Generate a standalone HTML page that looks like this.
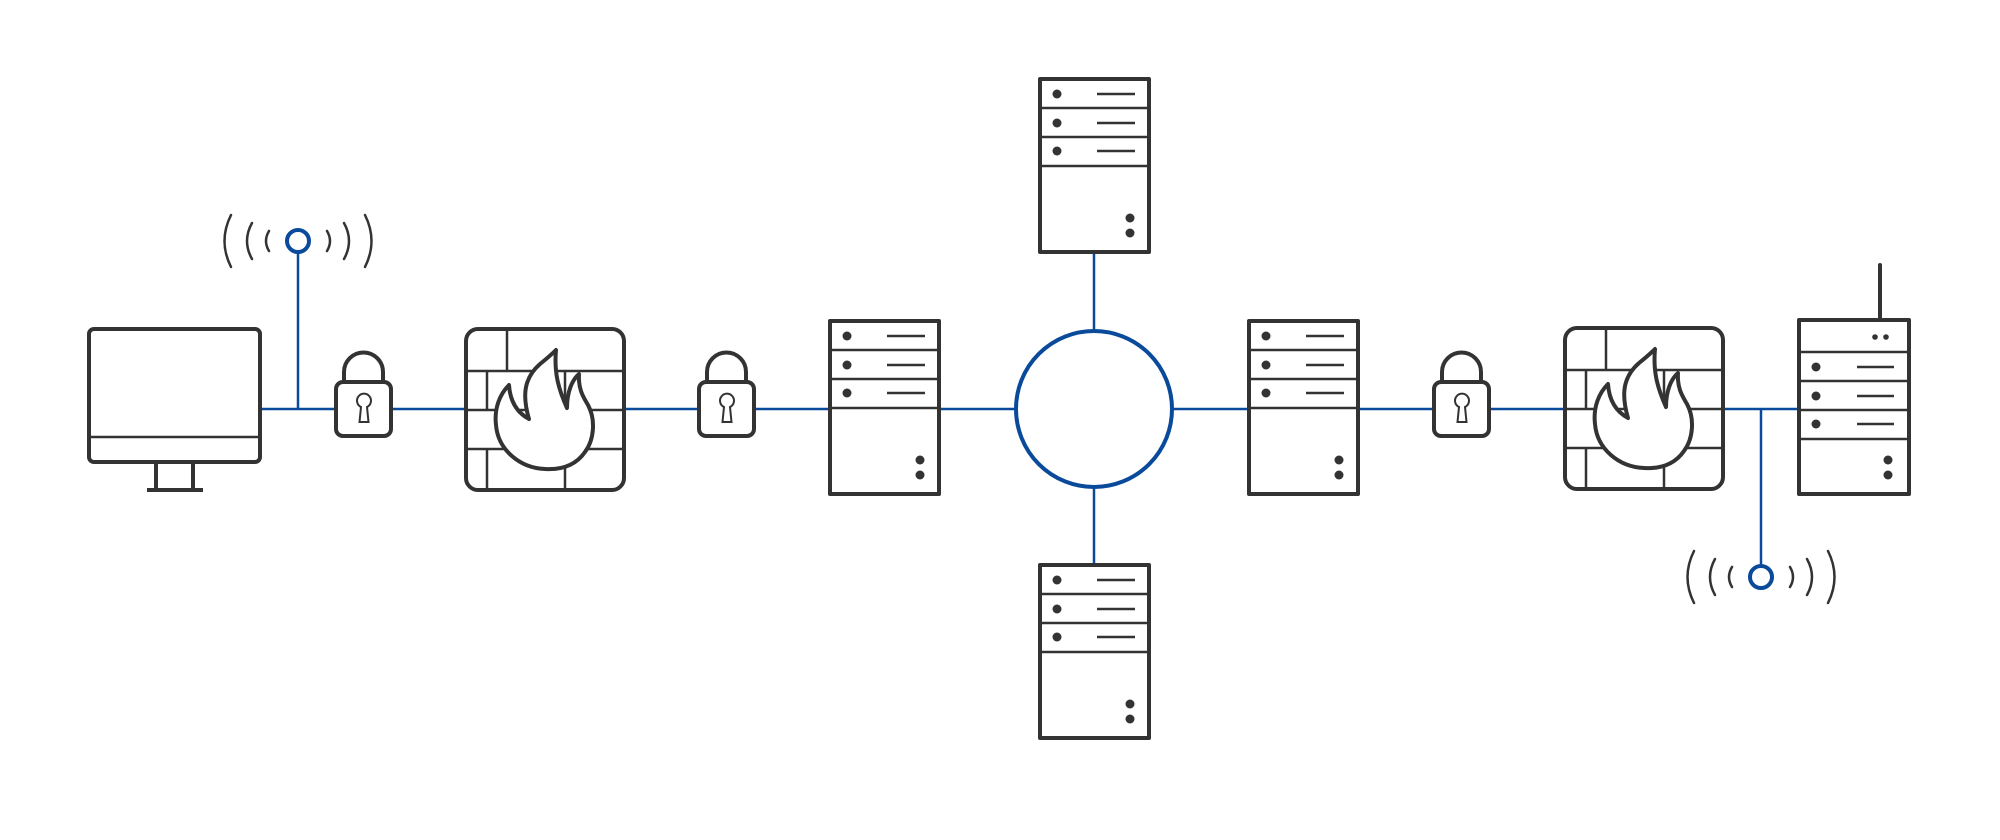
<!DOCTYPE html>
<html><head><meta charset="utf-8"><style>html,body{margin:0;padding:0;background:#fff}svg{display:block}</style></head>
<body>
<svg width="2000" height="840" viewBox="0 0 2000 840" xmlns="http://www.w3.org/2000/svg">
<defs>
<g id="srv">
  <rect x="0" y="0" width="109" height="173" fill="#fff" stroke="#333" stroke-width="4" stroke-linejoin="round"/>
  <line x1="0" y1="29" x2="109" y2="29" stroke="#333" stroke-width="2.5"/>
  <line x1="0" y1="58" x2="109" y2="58" stroke="#333" stroke-width="2.5"/>
  <line x1="0" y1="87" x2="109" y2="87" stroke="#333" stroke-width="2.5"/>
  <circle cx="17" cy="15" r="4.5" fill="#333"/><circle cx="17" cy="44" r="4.5" fill="#333"/><circle cx="17" cy="72" r="4.5" fill="#333"/>
  <line x1="57" y1="15" x2="95" y2="15" stroke="#333" stroke-width="2.5"/>
  <line x1="57" y1="44" x2="95" y2="44" stroke="#333" stroke-width="2.5"/>
  <line x1="57" y1="72" x2="95" y2="72" stroke="#333" stroke-width="2.5"/>
  <circle cx="90" cy="139" r="4.5" fill="#333"/><circle cx="90" cy="154" r="4.5" fill="#333"/>
</g>
<g id="lock">
  <path d="M8,27 V17 A19.5,19.5 0 0 1 47,17 V27" fill="none" stroke="#333" stroke-width="4"/>
  <rect x="0" y="27" width="55" height="54" rx="7" fill="#fff" stroke="#333" stroke-width="4"/>
  <path d="M23.5,67 L25,52 A7,7 0 1 1 31,52 L32.5,67 Z" fill="none" stroke="#333" stroke-width="2"/>
</g>
<g id="fw">
  <rect x="0" y="0" width="158" height="161" rx="12" fill="#fff" stroke="#333" stroke-width="4"/>
  <g stroke="#333" stroke-width="2.5">
    <line x1="0" y1="42" x2="158" y2="42"/><line x1="0" y1="81" x2="158" y2="81"/><line x1="0" y1="120" x2="158" y2="120"/>
    <line x1="41" y1="0" x2="41" y2="42"/>
    <line x1="21" y1="42" x2="21" y2="81"/><line x1="99" y1="42" x2="99" y2="81"/>
    <line x1="21" y1="120" x2="21" y2="161"/><line x1="99" y1="120" x2="99" y2="161"/>
  </g>
  <path transform="translate(-466,-329)" d="M529,419 C522,395 524,378 540,364 C550,356 556,350 556,350 C554,372 558,388 567,408 C567,392 572,380 579,374 C578,390 584,398 588,405 C596,420 594,440 585,452 C576,465 562,470 545,469 C520,468 498,450 496,425 C494,408 500,394 509,385 C510,400 516,412 529,419 Z" fill="#fff" stroke="#333" stroke-width="4" stroke-linejoin="round"/>
</g>
<g id="waves" fill="none" stroke="#333" stroke-width="2.5" stroke-linecap="round">
  <path d="M-29,-10 Q-35,0 -29,10"/><path d="M-46,-18 Q-56,0 -46,18"/><path d="M-67,-26 Q-80,0 -67,26"/>
  <path d="M29,-10 Q35,0 29,10"/><path d="M46,-18 Q56,0 46,18"/><path d="M67,-26 Q80,0 67,26"/>
</g>
</defs>

<!-- connectors -->
<g stroke="#0a4a9a" stroke-width="2.5" fill="none">
  <line x1="260" y1="409" x2="1799" y2="409"/>
  <line x1="298" y1="252" x2="298" y2="409"/>
  <line x1="1094" y1="252" x2="1094" y2="563"/>
  <line x1="1761" y1="409" x2="1761" y2="566"/>
</g>

<!-- monitor -->
<rect x="89" y="329" width="171" height="133" rx="5" fill="#fff" stroke="#333" stroke-width="4"/>
<line x1="89" y1="437" x2="260" y2="437" stroke="#333" stroke-width="2.5"/>
<path d="M156,462 V490 M193,462 V490" stroke="#333" stroke-width="4"/>
<line x1="147" y1="490" x2="203" y2="490" stroke="#333" stroke-width="4"/>

<!-- wifi 1 -->
<use href="#waves" transform="translate(298,241)"/>
<circle cx="298" cy="241" r="11" fill="#fff" stroke="#0a4a9a" stroke-width="4"/>

<use href="#lock" transform="translate(336,355)"/>
<use href="#fw" transform="translate(466,329)"/>
<use href="#lock" transform="translate(699,355)"/>
<use href="#srv" transform="translate(830,321)"/>

<circle cx="1094" cy="409" r="78" fill="#fff" stroke="#0a4a9a" stroke-width="4"/>
<use href="#srv" transform="translate(1040,79)"/>
<use href="#srv" transform="translate(1040,565)"/>
<use href="#srv" transform="translate(1249,321)"/>

<use href="#lock" transform="translate(1434,355)"/>
<use href="#fw" transform="translate(1565,328)"/>

<!-- router -->
<line x1="1880" y1="265" x2="1880" y2="320" stroke="#333" stroke-width="4" stroke-linecap="round"/>
<rect x="1799" y="320" width="110" height="174" fill="#fff" stroke="#333" stroke-width="4" stroke-linejoin="round"/>
<g stroke="#333" stroke-width="2.5">
  <line x1="1799" y1="352" x2="1909" y2="352"/><line x1="1799" y1="381" x2="1909" y2="381"/>
  <line x1="1799" y1="410" x2="1909" y2="410"/><line x1="1799" y1="439" x2="1909" y2="439"/>
  <line x1="1857" y1="367" x2="1894" y2="367"/><line x1="1857" y1="396" x2="1894" y2="396"/><line x1="1857" y1="424" x2="1894" y2="424"/>
</g>
<g fill="#333">
  <circle cx="1875" cy="337" r="2.8"/><circle cx="1886" cy="337" r="2.8"/>
  <circle cx="1816" cy="367" r="4.5"/><circle cx="1816" cy="396" r="4.5"/><circle cx="1816" cy="424" r="4.5"/>
  <circle cx="1888" cy="460" r="4.5"/><circle cx="1888" cy="475" r="4.5"/>
</g>

<!-- wifi 2 -->
<use href="#waves" transform="translate(1761,577)"/>
<circle cx="1761" cy="577" r="11" fill="#fff" stroke="#0a4a9a" stroke-width="4"/>
</svg>
</body></html>
